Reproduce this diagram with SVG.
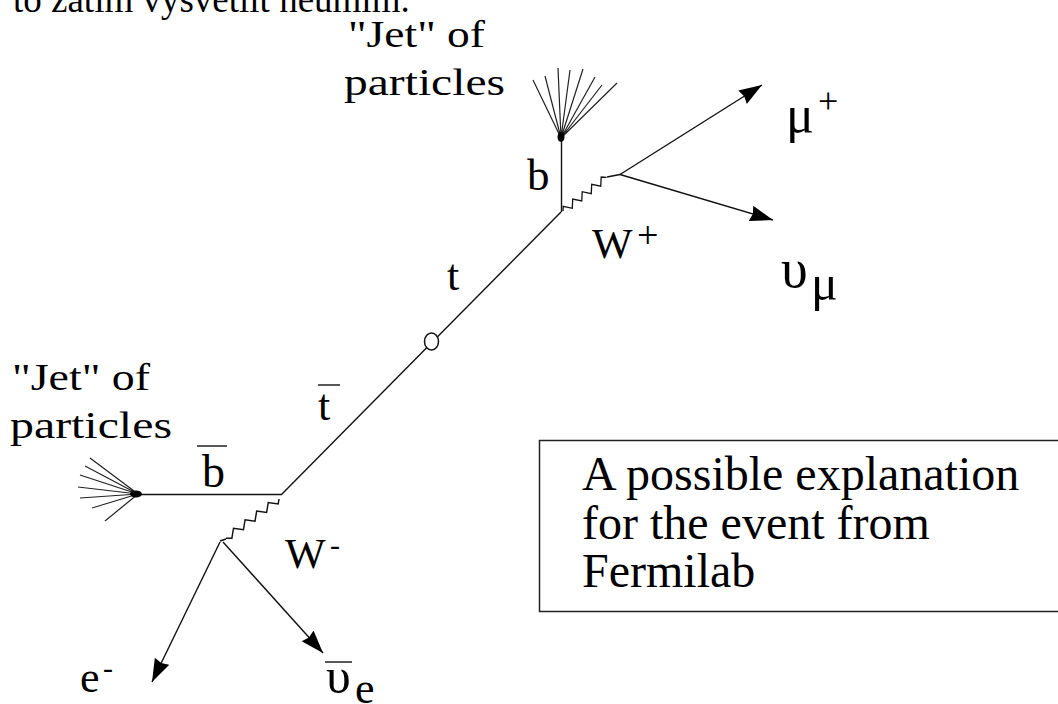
<svg xmlns="http://www.w3.org/2000/svg" width="1058" height="704" viewBox="0 0 1058 704">
<style>
text{font-family:"Liberation Serif","Times New Roman",serif;fill:#000}
.ln{stroke:#111;stroke-width:1.4;fill:none}
.jet{stroke:#222;stroke-width:1.2;fill:none}
.wig{stroke:#111;stroke-width:1.3;fill:none;stroke-linejoin:miter}
.arr{stroke:#111;stroke-width:1.4;fill:none;marker-end:url(#ah)}
.lbl{font-size:37px}
.box{font-size:48px}
</style>
<defs>
<marker id="ah" markerUnits="userSpaceOnUse" markerWidth="26" markerHeight="18" refX="23" refY="8" orient="auto">
<path d="M0,0 L23,8 L0,16 L2,8 z" fill="#000"/>
</marker>
<path id="zz" d="M0,0 L3,-3.5 L9,3.5 L15,-3.5 L21,3.5 L27,-3.5 L33,3.5 L39,-3.5 L45,3.5 L51,-3.5 L55,0"/>
</defs>
<rect width="1058" height="704" fill="#fff"/>

<text x="13" y="12" font-size="37">to zatím vysvětlit neumím.</text>

<g id="connectors">
<line class="ln" x1="561" y1="212" x2="281" y2="495"/>
<line class="ln" x1="561.5" y1="138" x2="561.5" y2="212"/>
<line class="ln" x1="138" y1="494.5" x2="281" y2="494.5"/>
<use href="#zz" class="wig" transform="translate(563,211) rotate(-37.7)"/>
<line class="ln" x1="607" y1="177" x2="620" y2="174.5"/>
<use href="#zz" class="wig" transform="translate(279,499) rotate(143.5) scale(1.2,1)"/>
<line class="ln" x1="226" y1="539" x2="220" y2="541"/>
<line class="arr" x1="620" y1="174.5" x2="762" y2="85"/>
<line class="arr" x1="620" y1="174.5" x2="773" y2="220"/>
<line class="arr" x1="220" y1="542" x2="152" y2="682"/>
<line class="arr" x1="223" y1="542" x2="323" y2="653"/>
</g>

<g id="top-quark-vertex">
<ellipse cx="431.5" cy="341.5" rx="7" ry="8.5" fill="#fff" stroke="#111" stroke-width="1.5"/>
</g>

<g id="jet-top">
<path class="jet" d="M561,138 L533,80 M561,138 L545,76 M561,138 L558,68 M561,138 L570,70 M561,138 L583,69 M561,138 L595,77 M561,138 L602,85 M561,138 L617,83"/>
<ellipse cx="561" cy="137" rx="3.5" ry="5" fill="#000"/>
</g>

<g id="jet-left">
<path class="jet" d="M138,494 L90,458 M138,494 L85,466 M138,494 L80,475 M138,494 L78,487 M138,494 L80,498 M138,494 L92,508 M138,494 L105,521"/>
<ellipse cx="136" cy="494" rx="6" ry="3.5" fill="#000"/>
</g>

<g id="label-jet-top">
<text class="lbl" x="348" y="47" textLength="137" lengthAdjust="spacingAndGlyphs">"Jet" of</text>
<text class="lbl" x="344" y="95" textLength="161" lengthAdjust="spacingAndGlyphs">particles</text>
</g>
<g id="label-jet-left">
<text class="lbl" x="12" y="390" textLength="138" lengthAdjust="spacingAndGlyphs">"Jet" of</text>
<text class="lbl" x="10" y="438" textLength="162" lengthAdjust="spacingAndGlyphs">particles</text>
</g>

<g id="label-b"><text x="527" y="190" font-size="45">b</text></g>
<g id="label-Wplus"><text x="592" y="258" font-size="43">W</text><text x="637" y="248" font-size="38">+</text></g>
<g id="label-muplus"><text x="786" y="132" font-size="52">μ</text><text x="818" y="113" font-size="36">+</text></g>
<g id="label-numu"><text x="781" y="287" font-size="54">υ</text><text x="811" y="300" font-size="50">μ</text></g>
<g id="label-t"><text x="447" y="290" font-size="44">t</text></g>
<g id="label-tbar"><text x="318" y="420" font-size="44">t</text><line class="ln" x1="318" y1="385" x2="340" y2="385"/></g>
<g id="label-bbar"><text x="202" y="487" font-size="46">b</text><line class="ln" x1="197" y1="446" x2="227" y2="446"/></g>
<g id="label-Wminus"><text x="285" y="568" font-size="43">W</text><text x="330" y="555" font-size="30">-</text></g>
<g id="label-eminus"><text x="80" y="692" font-size="44">e</text><text x="103" y="678" font-size="30">-</text></g>
<g id="label-nuebar"><text x="326" y="693" font-size="50">υ</text><line class="ln" x1="325" y1="662" x2="352" y2="662"/><text x="355" y="703" font-size="44">e</text></g>

<g id="caption">
<rect x="539.5" y="440.5" width="530" height="171" fill="none" stroke="#222" stroke-width="1.5"/>
<text class="box" x="582" y="490">A possible explanation</text>
<text class="box" x="582" y="539">for the event from</text>
<text class="box" x="582" y="587">Fermilab</text>
</g>
</svg>
